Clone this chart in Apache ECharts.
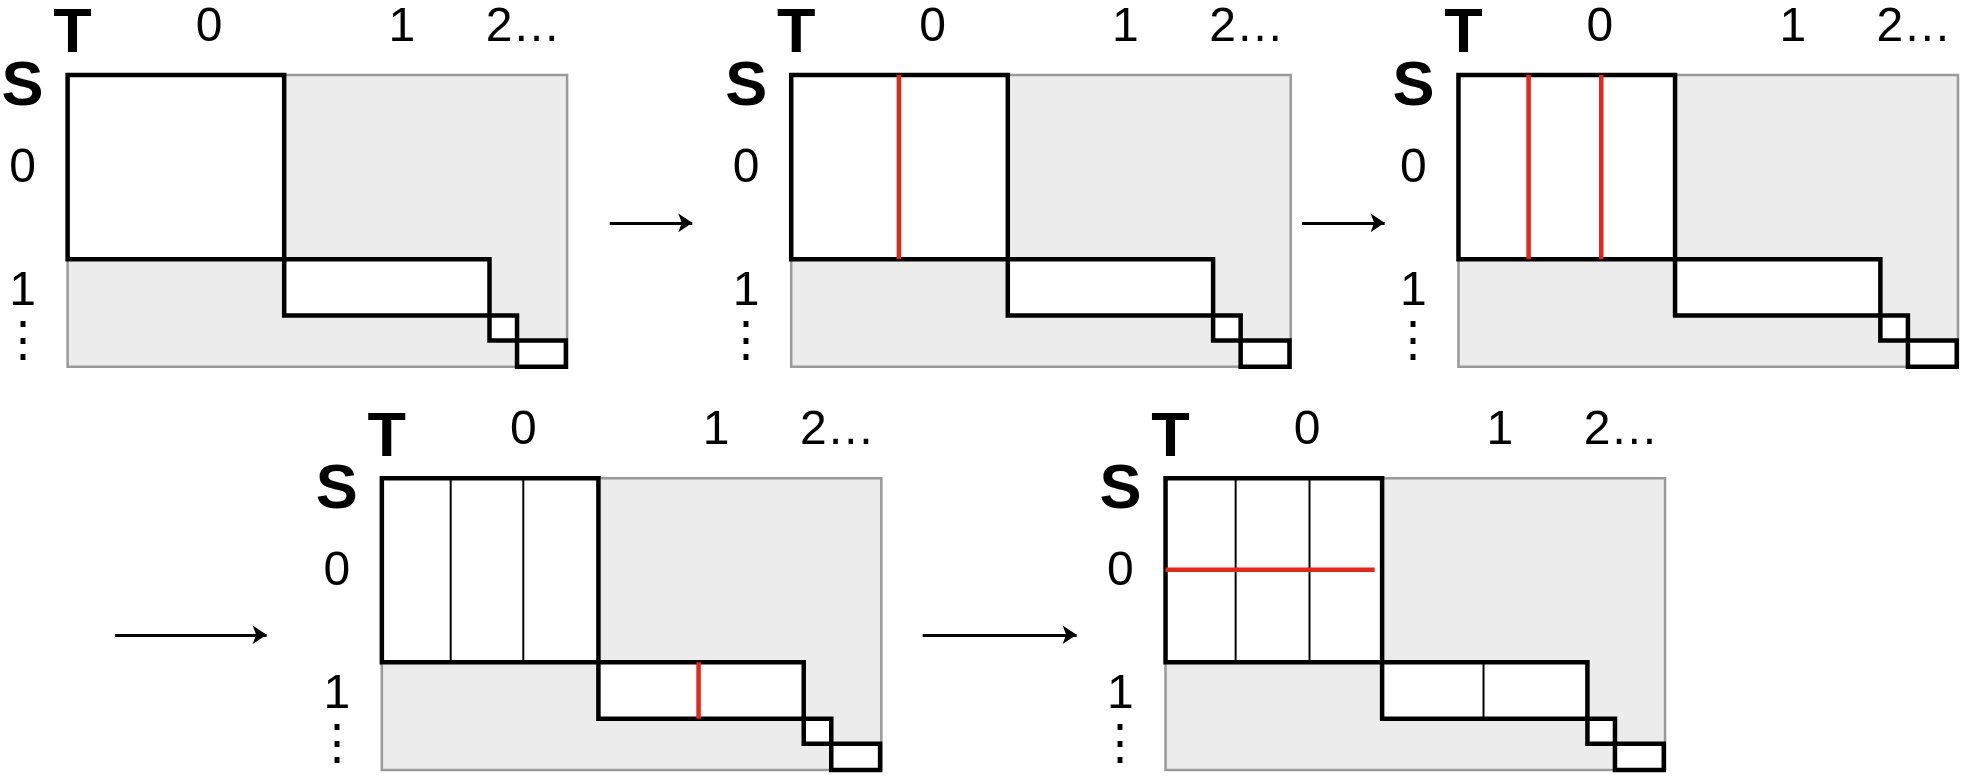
<!DOCTYPE html>
<html>
<head>
<meta charset="utf-8">
<script src="https://cdn.jsdelivr.net/npm/echarts@6/dist/echarts.min.js"></script>
<style>html,body{margin:0;padding:0;background:#fff}#main{width:1963px;height:780px}</style>
</head>
<body>
<div id="main"></div>
<script>
// diagram units are the reference picture's pixels (1568 x 623)
const panelOrigins = [[54, 60], [632, 60], [1165, 60], [305, 382], [931, 382]]
// local rects: [x1, y1, x2, y2, kind]
const panelRects = [
  [0, 0, 399, 233, 'gray'],
  [0, 0, 173, 147, 'block'],
  [173, 147, 337, 192, 'block'],
  [337, 192, 359, 212, 'block'],
  [359, 212, 398, 233, 'block']
]
// local labels: [x, y, text, bold, align]
const panelLabels = [
  [4, -32, 'T', true, 'center'],
  [113, -38, '0', false, 'center'],
  [267, -38, '1', false, 'center'],
  [334, -38, '2…', false, 'left'],
  [-36, 10, 'S', true, 'center'],
  [-36, 75, '0', false, 'center'],
  [-36, 173, '1', false, 'center'],
  [-36, 214, '⋮', false, 'center']
]
// extra lines per panel: [panel, x1, y1, x2, y2, kind]
const splitLines = [
  [1, 86, 0, 86, 147, 'red'],
  [2, 56, 0, 56, 147, 'red'],
  [2, 114, 0, 114, 147, 'red'],
  [3, 55, 0, 55, 147, 'thin'],
  [3, 113, 0, 113, 147, 'thin'],
  [3, 253, 147, 253, 192, 'red'],
  [4, 56, 0, 56, 147, 'thin'],
  [4, 115, 0, 115, 147, 'thin'],
  [4, 0, 73, 167, 73, 'red'],
  [4, 254, 147, 254, 192, 'thin']
]
const arrows = [[487, 178, 553, 178], [1040, 178, 1106, 178], [92, 507, 213, 507], [737, 507, 860, 507]]

const rectData = [], lineData = [], labelData = []
panelOrigins.forEach(([ox, oy], p) => {
  panelRects.forEach(r => rectData.push([ox + r[0], oy + r[1], ox + r[2], oy + r[3], r[4]]))
  panelLabels.forEach(l => labelData.push([ox + l[0], oy + l[1], l[2], l[3], l[4]]))
})
splitLines.forEach(s => {
  const [ox, oy] = panelOrigins[s[0]]
  lineData.push([ox + s[1], oy + s[2], ox + s[3], oy + s[4], s[5]])
})

const chart = echarts.init(document.getElementById('main'))
const k = 1963 / 1568

chart.setOption({
  animation: false,
  grid: {left: 0, right: 0, top: 0, bottom: 0},
  xAxis: {type: 'value', min: 0, max: 1568, show: false},
  yAxis: {type: 'value', min: 0, max: 623, inverse: true, show: false},
  series: [
    {
      type: 'custom', data: rectData, z: 1,
      renderItem: (params, api) => {
        const a = api.coord([api.value(0), api.value(1)])
        const b = api.coord([api.value(2), api.value(3)])
        const gray = rectData[params.dataIndex][4] === 'gray'
        return {
          type: 'rect', z2: gray ? 1 : 5,
          shape: {x: a[0], y: a[1], width: b[0] - a[0], height: b[1] - a[1]},
          style: gray ? {fill: '#ececec', stroke: '#9a9a9a', lineWidth: 2.5}
                      : {fill: '#fff', stroke: '#000', lineWidth: 4.5}
        }
      }
    },
    {
      type: 'custom', data: lineData, z: 3,
      renderItem: (params, api) => {
        const a = api.coord([api.value(0), api.value(1)])
        const b = api.coord([api.value(2), api.value(3)])
        const red = lineData[params.dataIndex][4] === 'red'
        return {
          type: 'line',
          shape: {x1: a[0], y1: a[1], x2: b[0], y2: b[1]},
          style: {stroke: red ? '#e0281c' : '#000', lineWidth: red ? 4.5 : 2}
        }
      }
    },
    {
      type: 'lines', coordinateSystem: 'cartesian2d', z: 3,
      symbol: ['none', 'arrow'], symbolSize: 14,
      lineStyle: {color: '#000', width: 3, opacity: 1},
      data: arrows.map(a => ({coords: [[a[0], a[1]], [a[2], a[3]]]}))
    },
    {
      type: 'custom', data: labelData, z: 4,
      renderItem: (params, api) => {
        const d = labelData[params.dataIndex]
        const p = api.coord([d[0], d[1]])
        return {
          type: 'text', x: p[0], y: p[1],
          style: {
            text: d[2], fill: '#000', align: d[4], verticalAlign: 'middle',
            font: (d[3] ? 'bold ' + Math.round(50 * k) : Math.round(38 * k)) + 'px "Liberation Sans", Arial, sans-serif'
          }
        }
      }
    }
  ]
})
</script>
</body>
</html>
